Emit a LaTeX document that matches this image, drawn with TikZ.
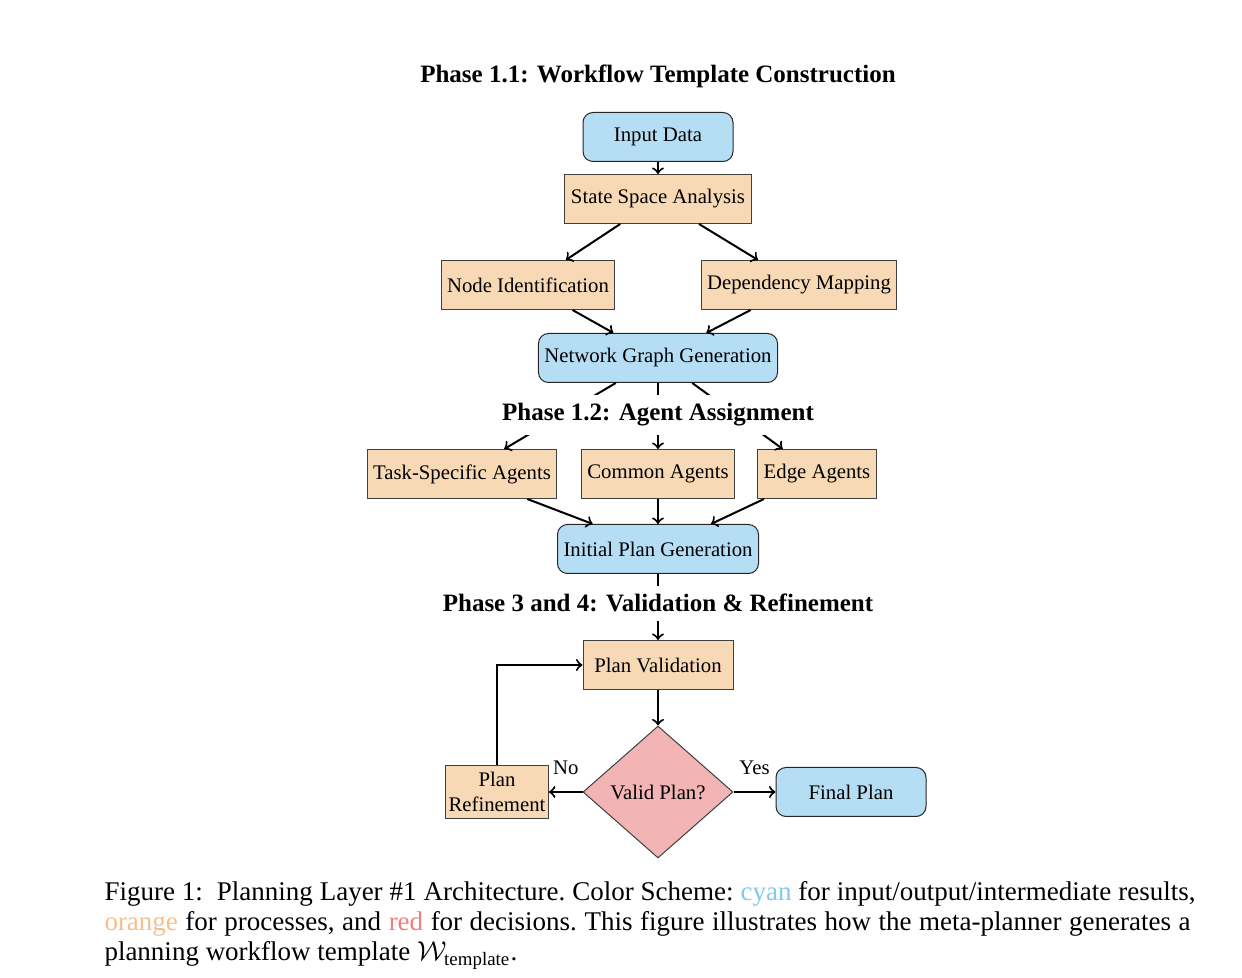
\documentclass[tikz,border=0pt]{standalone}
\usepackage{fontspec}
\usepackage{amsmath}
\setmainfont{Liberation Serif}
\usetikzlibrary{shapes.geometric}
\definecolor{iofill}{RGB}{181,222,245}
\definecolor{procfill}{RGB}{248,217,182}
\definecolor{decfill}{RGB}{242,180,180}
\definecolor{capcyan}{RGB}{130,200,240}
\definecolor{caporange}{RGB}{245,190,140}
\definecolor{capred}{RGB}{238,128,128}

\begin{document}
\begin{tikzpicture}[x=0.4pt,y=0.4pt,
  boxtext/.style={font=\fontsize{8.3}{10}\selectfont},
  io/.style={boxtext,draw=black!85,fill=iofill,rounded corners=4pt,minimum width=60pt,minimum height=19.6pt,inner xsep=2.4pt},
  proc/.style={boxtext,draw=black!75,fill=procfill,minimum height=19.6pt,inner xsep=2.4pt},
  dec/.style={boxtext,diamond,draw=black!75,fill=decfill,inner sep=0pt,minimum width=60pt,minimum height=52.8pt},
  phase/.style={fill=white,font=\fontsize{10}{12}\selectfont\bfseries},
  flow/.style={->,black,line width=0.8pt},
  captext/.style={inner sep=0pt,anchor=base west,font=\fontsize{10.8}{13}\selectfont\frenchspacing}]
\useasboundingbox (0,0) rectangle (1242,-978);
\node [phase, anchor=base] (t1) at (658,-83) {Phase 1.1: Workflow Template Construction};
\node [io] (in) at (658,-137) {Input Data};
\node [proc] (ssa) at (658,-199) {State Space Analysis};
\node [proc] (nid) at (528,-285) {Node Identification};
\node [proc] (dep) at (799,-285) {Dependency Mapping};
\node [io] (ngg) at (658,-358) {Network Graph Generation};
\node [proc] (tsa) at (462,-474) {Task-Specific Agents};
\node [proc] (ca) at (658,-474) {Common Agents};
\node [proc] (ea) at (817,-474) {Edge Agents};
\node [io] (ipg) at (658,-549) {Initial Plan Generation};
\node [proc, minimum width=60pt] (pv) at (658,-665) {Plan Validation};
\node [dec] (vp) at (658,-792) {Valid Plan?};
\node [proc, align=center, minimum height=21.2pt, inner sep=1.2pt] (pr) at (497,-792) {Plan\\Refinement};
\node [io] (fp) at (851,-792) {Final Plan};
\draw [flow] (in) -- (ssa);
\draw [flow] (ssa) -- (nid);
\draw [flow] (ssa) -- (dep);
\draw [flow] (nid) -- (ngg);
\draw [flow] (dep) -- (ngg);
\draw [flow] (ngg) -- (tsa);
\draw [flow] (ngg) -- (ca);
\draw [flow] (ngg) -- (ea);
\node [phase, anchor=base] (t2) at (658,-421) {Phase 1.2: Agent Assignment};
\draw [flow] (tsa) -- (ipg);
\draw [flow] (ca) -- (ipg);
\draw [flow] (ea) -- (ipg);
\draw [flow] (ipg) -- (pv);
\node [phase, anchor=base] (t3) at (658,-612) {Phase 3 and 4: Validation \& Refinement};
\draw [flow] (pv) -- (vp);
\draw [flow] (vp) -- node [boxtext, above=3pt] (no) {No} (pr);
\draw [flow] (vp) -- node [boxtext, above=3pt] (yes) {Yes} (fp);
\draw [flow] (pr) |- (pv);
\node [captext] (c1) at (104,-901) {\hbox to 436.4pt{Figure 1:\ \ Planning Layer \#1 Architecture. Color Scheme: \textcolor{capcyan}{cyan} for input/output/intermediate results,}};
\node [captext] (c2) at (104,-931) {\hbox to 434.4pt{\textcolor{caporange}{orange} for processes, and \textcolor{capred}{red} for decisions. This figure illustrates how the meta-planner generates a}};
\node [captext] (c3) at (104,-961) {planning workflow template $\mathcal{W}_{\text{template}}$.};
\end{tikzpicture}
\end{document}
